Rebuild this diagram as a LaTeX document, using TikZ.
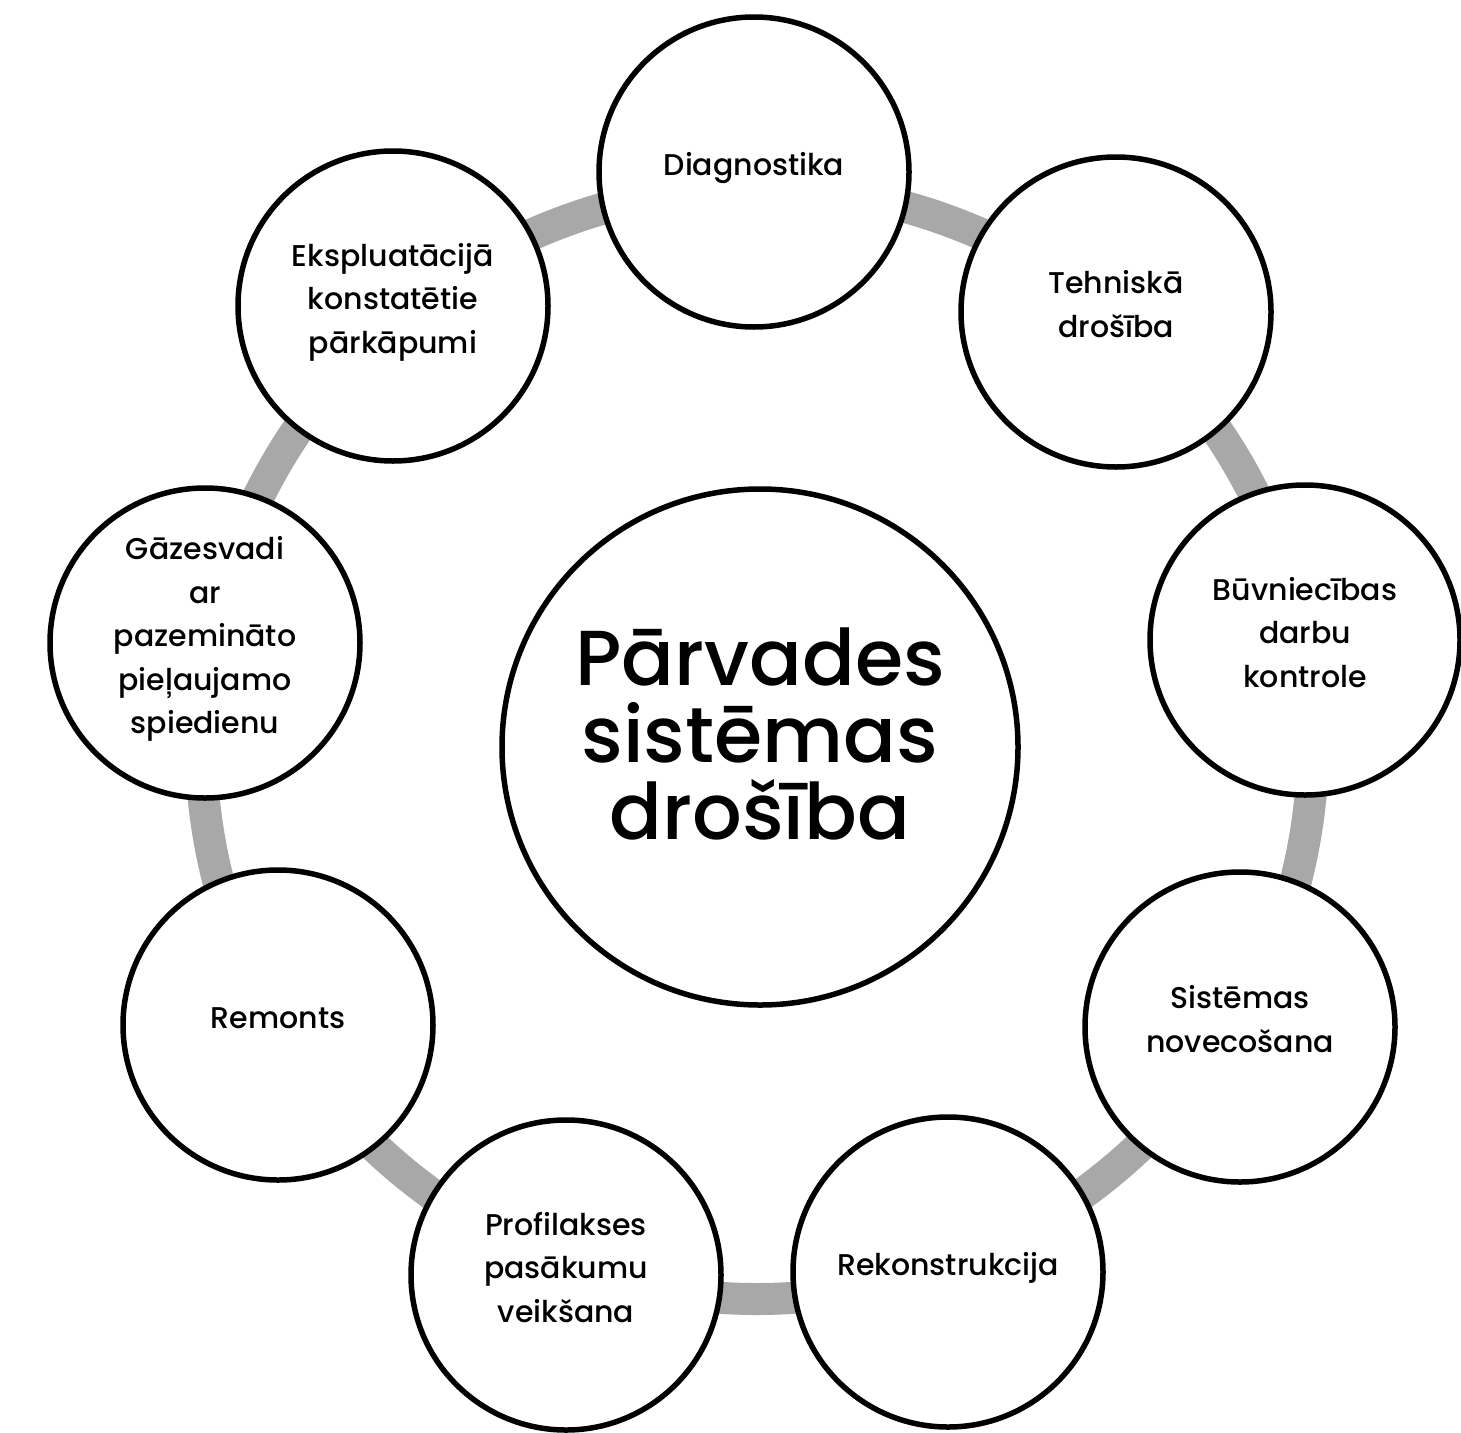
\documentclass[tikz,border=0pt]{standalone}
\usepackage{fontspec}
\IfFontExistsTF{Poppins Medium}{\setmainfont{Poppins Medium}}{\setmainfont{Poppins}[FakeBold=0.4]}
\definecolor{ringG}{rgb}{0.66,0.66,0.66}
\newcommand{\lbl}{\fontsize{30}{43.5}\selectfont}
\newcommand{\hubfont}{\fontsize{78}{77}\selectfont}
\begin{document}
\begin{tikzpicture}[x=1pt,y=-1pt,every node/.style={inner sep=0pt,outer sep=0pt},
 topic/.style={circle,draw,line width=5.5pt,fill=white,minimum size=310pt,align=center,font=\lbl},
 hubc/.style={circle,draw,line width=5.5pt,fill=white,minimum size=516pt}]
\path[use as bounding box] (0,0) rectangle (1461,1432);
% ---------- ring behind the topics
\coordinate (ringc) at (757,743);
\draw[ringG,line width=32pt] (ringc) circle[radius=556pt];
% ---------- centre
\node[hubc] (hub) at (760,747) {};
\node[font=\hubfont,align=center] (hubtxt) at ([yshift=13pt]hub.center) {Pārvades\\sistēmas\\drošība};
% ---------- topics round the ring
\foreach \nm/\xx/\yy/\txt in {
 diag/754/172/Diagnostika,
 tehn/1116/312/{Tehniskā\\drošība},
 buvn/1305/640/{Būvniecības\\darbu\\kontrole},
 sist/1240/1027/{Sistēmas\\novecošana},
 rekon/948/1272/Rekonstrukcija,
 profil/566/1275/{Profilakses\\pasākumu\\veikšana},
 remon/278/1025/Remonts,
 gaze/205/643/{Gāzesvadi\\ar\\pazemināto\\pieļaujamo\\spiedienu},
 ekspl/393/306/{Ekspluatācijā\\konstatētie\\pārkāpumi}}
 \node[topic] (\nm) at (\xx,\yy) {\raisebox{5pt}[\height][\depth]{\begin{tabular}{@{}c@{}}\txt\end{tabular}}};
\end{tikzpicture}
\end{document}
